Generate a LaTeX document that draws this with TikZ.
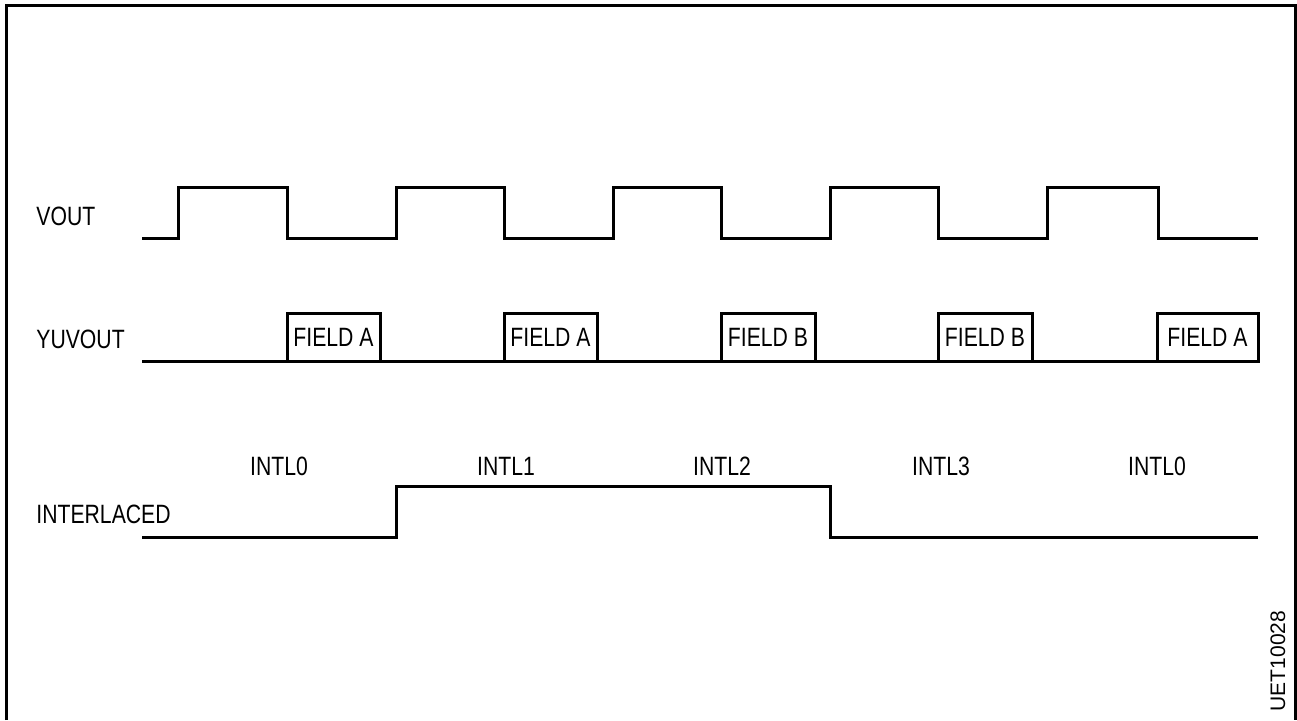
\documentclass[tikz,border=0pt]{standalone}
\usepackage{fontspec}
\setmainfont{Liberation Sans}
\newfontfamily\narrowsans[FakeStretch=0.8]{Liberation Sans}
\usetikzlibrary{positioning}

\tikzset{
  wave/.style={line width=1.5pt, line join=miter},
  siglabel/.style={font=\narrowsans\fontsize{13.25}{15}\selectfont, anchor=base west, inner sep=0pt},
  fieldlabel/.style={font=\narrowsans\fontsize{13.25}{15}\selectfont, anchor=base, inner sep=0pt},
}

\begin{document}
\begin{tikzpicture}[x=0.5pt, y=-0.5pt]
  \useasboundingbox (0,0) rectangle (1297,720);

  % open frame (no bottom edge)
  \draw[line width=1.5pt] (6.5,720) -- (6.5,5.5) -- (1295,5.5) -- (1295,720);

  % signal names
  \node[siglabel] (vout)  at (36,225) {VOUT};
  \node[siglabel] (yuv)   at (36,348) {YUVOUT};
  \node[siglabel] (intl)  at (36,523) {INTERLACED};

  % VOUT
  \draw[wave] (142,238)
    foreach \r/\f in {178/287, 396/504, 613/721, 830/938, 1047/1158} {
      -- (\r,238) -- (\r,187) -- (\f,187) -- (\f,238)
    } -- (1258,238);

  % YUVOUT
  \draw[wave] (142,361) -- (1258,361);
  \foreach \a/\b/\t [count=\i] in {287/380/A, 504/597/A, 721/815/B, 938/1032/B, 1157/1258/A} {
    \draw[wave] (\a,361) rectangle (\b,313);
    \node[fieldlabel] (field\i) at ({(\a+\b)/2},346) {FIELD \t};
  }

  % INTERLACED
  \draw[wave] (142,537) -- (396,537) -- (396,486) -- (830,486) -- (830,537) -- (1258,537);
  \foreach \x/\t [count=\i] in {279/0, 506/1, 722/2, 941/3, 1157/0} {
    \node[fieldlabel] (mode\i) at (\x,475) {INTL\t};
  }

  \node[font=\fontsize{10.5}{12}\selectfont, rotate=90, inner sep=0pt] (figid) at (1278,661) {UET10028};
\end{tikzpicture}
\end{document}
